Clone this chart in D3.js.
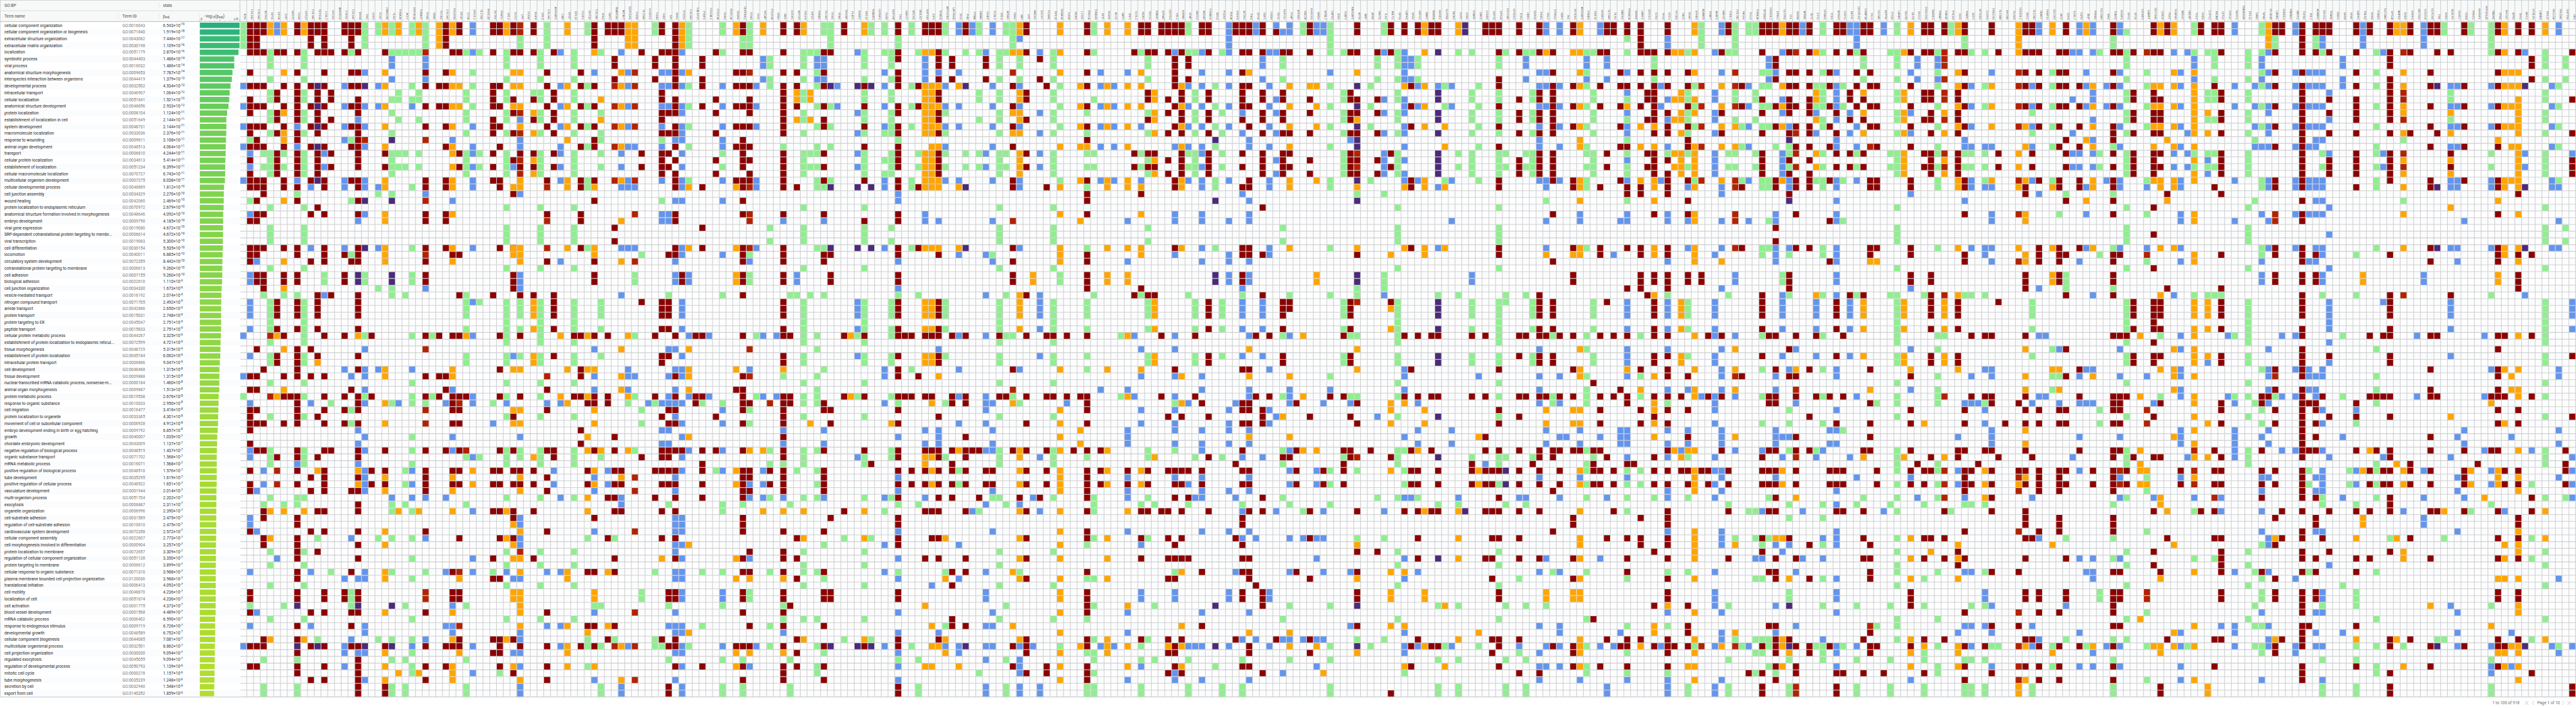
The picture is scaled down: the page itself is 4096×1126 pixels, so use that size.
<!DOCTYPE html>
<html><head><meta charset="utf-8">
<script src="https://cdn.jsdelivr.net/npm/d3@7"></script>
<style>html,body{margin:0;padding:0;background:#fff;overflow:hidden}svg{display:block}text{font-family:Roboto,sans-serif}</style>
</head><body><div id="chart"></div><script>
const terms=["cellular component organization","cellular component organization or biogenesis","extracellular structure organization","extracellular matrix organization","localization","symbiotic process","viral process","anatomical structure morphogenesis","interspecies interaction between organisms","developmental process","intracellular transport","cellular localization",
"anatomical structure development","protein localization","establishment of localization in cell","system development","macromolecule localization","response to wounding","animal organ development","transport","cellular protein localization","establishment of localization","cellular macromolecule localization","multicellular organism development","cellular developmental process","cell junction assembly","wound healing","protein localization to endoplasmic reticulum","anatomical structure formation involved in morphogenesis","embryo development","viral gene expression","SRP-dependent cotranslational protein targeting to membr...","viral transcription","cell differentiation","locomotion","circulatory system development","cotranslational protein targeting to membrane","cell adhesion","biological adhesion","cell junction organization","vesicle-mediated transport","nitrogen compound transport","amide transport","protein transport","protein targeting to ER","peptide transport","cellular protein metabolic process","establishment of protein localization to endoplasmic reticul...","tissue morphogenesis","establishment of protein localization","intracellular protein transport","cell development","tissue development","nuclear-transcribed mRNA catabolic process, nonsense-m...","animal organ morphogenesis","protein metabolic process","response to organic substance","cell migration","protein localization to organelle","movement of cell or subcellular component","embryo development ending in birth or egg hatching","growth","chordate embryonic development","negative regulation of biological process","organic substance transport","mRNA metabolic process","positive regulation of biological process","tube development","positive regulation of cellular process","vasculature development","multi-organism process","exocytosis","organelle organization","cell-substrate adhesion","regulation of cell-substrate adhesion","cardiovascular system development","cellular component assembly","cell morphogenesis involved in differentiation","protein localization to membrane","regulation of cellular component organization","protein targeting to membrane","cellular response to organic substance","plasma membrane bounded cell projection organization","translational initiation","cell motility","localization of cell","cell activation",
"blood vessel development","mRNA catabolic process","response to endogenous stimulus","developmental growth","cellular component biogenesis","multicellular organismal process","cell projection organization","regulated exocytosis","regulation of developmental process","mitotic cell cycle","tube morphogenesis","secretion by cell","export from cell"];
const termIds=["0016043","0071840","0043062","0030198","0051179","0044403","0016032","0009653","0044419","0032502","0046907","0051641",
"0048856","0008104","0051649","0048731","0033036","0009611","0048513","0006810","0034613","0051234","0070727","0007275","0048869","0034329","0042060","0070972","0048646","0009790","0019080","0006614","0019083","0030154","0040011","0072359","0006613","0007155","0022610","0034330","0016192","0071705","0042886","0015031","0045047","0015833","0044267","0072599","0048729","0045184","0006886","0048468","0009888","0000184","0009887","0019538","0010033","0016477","0033365","0006928","0009792","0040007","0043009","0048519","0071702","0016071","0048518","0035295","0048522","0001944","0051704","0006887","0006996","0031589","0010810","0072358","0022607","0000904","0072657","0051128","0006612","0071310","0120036","0006413","0048870","0051674","0001775",
"0001568","0006402","0009719","0048589","0044085","0032501","0030030","0045055","0050793","0000278","0035239","0032940","0140352"];
const padjMantissa=[6.543,1.919,7.446,1.109,2.870,1.486,1.486,7.787,1.379,4.534,1.064,1.521,
2.933,1.124,2.144,2.144,2.376,3.108,4.064,4.244,5.414,6.399,6.743,8.038,1.812,2.270,2.469,2.679,4.092,4.185,4.672,4.672,5.300,5.535,6.885,8.442,9.260,9.260,1.110,1.673,2.074,2.492,2.650,2.748,2.751,2.751,3.325,4.721,5.315,6.062,9.047,1.315,1.315,1.460,1.513,2.676,2.950,3.416,4.301,4.912,6.857,1.035,1.137,1.437,1.568,1.568,1.576,1.619,1.651,2.014,2.202,2.311,2.390,2.475,2.475,2.572,2.773,3.257,3.309,3.350,3.899,3.988,3.988,4.092,4.236,4.236,4.373,
4.489,6.590,6.726,6.752,7.081,8.862,9.094,9.094,1.139,1.157,1.248,1.548,1.859];
const padjExponent=[-19,-18,-17,-16,-16,-14,-14,-14,-13,-13,-12,-12,
-12,-11,-11,-11,-11,-11,-11,-11,-11,-11,-11,-11,-10,-10,-10,-10,-10,-10,-10,-10,-10,-10,-10,-10,-10,-10,-9,-9,-9,-9,-9,-9,-9,-9,-9,-9,-9,-9,-9,-8,-8,-8,-8,-8,-8,-8,-8,-8,-8,-7,-7,-7,-7,-7,-7,-7,-7,-7,-7,-7,-7,-7,-7,-7,-7,-7,-7,-7,-7,-7,-7,-7,-7,-7,-7,
-7,-7,-7,-7,-7,-7,-7,-7,-6,-6,-6,-6,-6];
const axisTicks=[0,2,4,6,8,10,12,14,16];
const evidence={r:"#8b0000",g:"#90ee90",o:"#ffa500",b:"#6495ed",p:"#4b2a7a",d:"#b22200"};
const colsA=[
["BGN","g0-3 b9,12,15,18,23,46,52,92 g55"],
["COL1A1","r0-4,7,9,11-13,15,16,18,20,22-24,29,33-35,52,54,57-60,62,66,68,69,75,84,85,87,92,95 g17,26,86 b19,21,28,37,38,41-43,45,49,56,63,64,73,74,81,89"],
["COL5A1","r0-4,9,12,15,17,18,23,24,26,28,29,33,34,37,38,48,52,54,57,59,63,92,95 b35,69,75,87"],
["ACTN1","r0,1,4,9,12,15,18,23-25,28,33,37-39,51,59,63,72,73,76,77,91,92 g19,21,40,71,94,98,99 b66,68"],
["RPS5","o0,1,72,76,91 g4-6,8,10,11,13,14,16,19-22,27,30-32,36,41-45,47,49,50,53,58,63-65,70,78,80,83,88 d46,55"],
["EIF5A","b0,1,79 r4,10,11,13,14,16,19-22,41-43,45,49,50,64 o46,55 d66,68"],
["DSP","o0,1,7,13,16,17,26,35,39,48,54,72 r4,9,12,15,18,23,24,33,37,38,46,52,55,59 g19,21,40,71,86"],
["NDST1","r55"],
["FLNA","r0,1,4,7,9-14,16,17,19-22,24,26,33,34,37,38,41-43,45,48-52,55-59,63,64,66,68,73,74,76-79,81,82,84,85,89,91,93,95,96 b15,18,23,65 g25,40,70,71,94,98,99 p86,92"],
["RPS10","o0,1,72,91 g4-6,8,10,11,13,14,16,19-22,27,30-32,36,41-47,49,50,53,55,58,63-65,70,78,80,83,88"],
["COL4A1","r0-3,9,12,15,18,23,28,35,48,52,67,69,75,87,92,97 b24,33,56,81,89"],
["SEC16A","r0,1,4,10,11,13,14,16,19-22,27,40-43,45,49,58,64,72,78 p9,12,15,18,23,92 o50,66 g76,91"],
["LOXL2","r0-4,7,9,12,15,18,23,24,28,33-35,46,52,55,57,59,63,66-69,72,75,84,85,87,92,95,97 b19,21,40 g37,38"],
["HYOU1","r4,10,11,14,19,21,40,63 g56,81"],
["ANKRD52",""],
["PTPRF","r0,1,4,34,37,38,46,55,57,59,84,85 b9,12,15,17,23,24,33,51,82,92,93,95"],
["COL1A2","r0-3,7,9,12,15,18,23,35,54,69,81,87,89,92 g4,17,26,34,57,59,84-86 b52,76,91"],
["MYH9","r0,1,4,7,9,11-13,15-20,21,23,24,26,28,33-35,40-43,45,49,51,55-57,59,63,64,67,69,71,72,75,77,79,84,85,87,92,94-99 b14,29,60,62,65,82,93 p37,38,86 o46,66,68"],
["TNC","g0-3,37,38,46,55 b7,12,15,18,23,24,28,48,51,52,54,56,61,63,66-69,81,82,89,90,93,97 p9,26,33,92 d17"],
["USP5","r46,55,66,68"],
["FLNC","g0,1,25,39,76,91 b9,12,24,33,51"],
["FAM129B","o0,1,7,9,12,15,18,23,24,28,29,33-35,51,52,56,59,67,69,75,77,81,82,87,93,95,97 r4,19,21,63,66,68,92,98,99"],
["TLN1","g0,1,4,11,13,16,19-22,25,39,40,56,71,72,76,81,91,94,98,99 b5,6,8,70 p17,26,37,38,86,92"],
["TUBA1B","o0,1,72,96 g4,10,11,14,19,21 b56"],
["ACLY","g4,19,21,40,66,68,71,86,94,98,99"],
["PPP2R1A","g0,1,4,9,11,24,33,37,38,46,53,55,56,61,63,65,72,76,79,82,88,91,93,95,96 b12,51,66,68,70,92"],
["TUBA1C","o0,1,72,96 g4,10,11,14,19,21"],
["ITGA5","g0-3,56,81 d4,17,26,34,48,57,59,84,85 b5,6,8,25,39,70,76,91 r7,9,12,15,23,24,28,29,33,35,37,38,46,52,55,63,66-69,75,87,92,95,97"],
["UBA1","g46,55"],
["PLOD1","o0-3 r9,12,46,52,55"],
["COL5A2","r0-3,7,9,12,15,18,23,24,28,29,33,52,54,63,92,95 b56,70,81,89"],
["PDGFRB","o0,1,7,9,12,15,18,19,21,23,24,28,33,35,51,52,67,69,72,87,91,95-97 r4,34,46,55-57,59,66,68,81,84,85,92 b17,26,54,61,63,86,89,90"],
["IGF1R","r0,1,4,19,21,34,40,46,55,57,59,63,66,68,76,84,85,91,92 o9,12,82,93 d56,81,89"],
["CTSA","g4,10,11,13,14,16,19-22,40-43,45,49,50,64,71,86,94,98,99 o46 r55 d63"],
["NFE2L1","b0,1,4,15,18,19,21,23,24,33,41,46,55,56,64,72,79,81,92,96 g7,9,12 o66,68"],
["SLC7A1","g4,19,21,41,64"],
["PRRC2B",""],
["DCTN1","r0,1,4,9-12,14-16,19,21,23,40,66,68,72,79,82,91,93 b59 g56,81"],
["PRMT1","r0,1,9,12,15,18,23,24,33,46,51,55,63,66,68,72,76,82,91-93,95 g96"],
["RPL3","o0,1,72,76,91 g4-6,8,10,11,13,14,16,19-22,27,30-32,36,41-47,49,50,53,55,58,63-65,70,78,80,83,88 b56,81"],
["RCC2","r0,1,4,11,13,16,20,25,33,37-39,58,63,66,68,72,73,76,91,96 o7,9,12,24,33,34,51,57,59,74,77,79,84,85,95 b21,49,82,93"],
["LPP","d0,1,13,16,20,22,78 g2,3,41-43,45,49,63,64 r4,19,21,40,46,55,66,68,92 o7,9,12,15,23,24,33-35,51,57,59,67,69,75,79,81,84-87,89,97 b14,17,18,25,37-39,61,73,74,76,77,82,90,91,93,95,98,99"],
["SCRIB",""]
];
const colsB=[
["PHIP9","r0,1,4,11,14,19,21,40,66,68,72,79 g10 o13,16,20,22,41-43,45,49,50,64"],
["RPL8","g4-6,8,10,11,13,14,16,19-22,27,30-32,36,41-47,49,50,53,55,58,63-65,70,78,80,83,88"],
["COL4A2","g0-3 r7,9,12,15,23,28,35,54,57,63,67,69,75,87,92,95,97 d24,29,33,52 b56,81,89"],
["ARHGAP1","r4,10,11,13,14,16,19,21,40-43,45,49,63,64 b66,68"],
["CAD","b4,9,12,15,18,19,21,23,35,56,70,81,89,92 o46,55"],
["NREP","o0,1,9,12,15,17,23,24,33,51,56,81,82,89,92,93,95"],
["RPL18","g4-6,8,10,11,13,14,16,19-22,27,30-32,36,41-45,47,49,50,53,58,63-65,70,78,80,83,88 r46,55"],
["TGOF1","r7,9,12,15,18,23,24,28,29,33,46,51,52,55,60,62,92"],
["KNT2D","g0,1,9,12,15,18,23,24,33,76,91,92,95 o46,51,55,61,63,70,72 r56,66,68,81,89 o90"],
["COL3A1","r0-3,9,12,15,17,18,23,26,35,37,38,46,55,56,63,73,81,89,92 o4,24,33,34,51,57,59,66,68,84,85,95 b7,48,52,54,67,69,75,87,97 g86"],
["TPK3","g4,13,16,17,19,21,41-43,45,49,64,86,92,98,99 o11,14,63"],
["SMT2","r0,1,46,55,56,70,76,91 b66,68 o81,89"],
["SMARCA4","r0,1,5,6,8,30,32,61,63,66,68,70,72,79,81,89 d9,12,15,18,23,92 g76,91"],
["MICAL2","r0,1,66,68,72 b4,19,21,24,33,40,70,71,98,99 o7,9,12,15,18,23,29,35,48,52,54,67,92,97"],
["SERPINH1","o0-3,46,55,63 b7,9,12,15,18,23,24,33,51,52,54,92 g56"],
["TGFBI","o0-3 d7,9,12,15,23,28,35,67,69,75,87,92,97 b18,24,33,52 g37,38,46,55,63"],
["SLC5A6","r4,19,21,41,64 g34,57,59,84,85"],
["UCHRC1","b56"],
["P4HB","g0,1,56,81,91,92 r5,6,8,46,55,66,70"],
["NID2","r0,1,4,10,11,13,14,16,19-22,41-43,45,49,50,58,63,64,66,68,72,76,91 b7,9,12,15,18,23,28,29,56,60,62 g17,26,92 o79"],
["GPI","r4,13,16,19,21,34,41-43,45,49,57,59,63,64,66,68,84,85,92,98,99 b7,9,12,28,29,48,52,55,56,60,62,89 g40,71,86,94"],
["DKK1","r0-9,11-13,15,16,18,20,22-24,28,29,33,34,46,52,55,57,59,63,66,68,70,72,76,79,84,85,91,92,95 b17,26,35,37,38,48,51,54,56,58,67,69,73-75,77,78,81,82,87,89,90,93,97"],
["POSTN","o0-3 b4,7,9,12,13,15-17,19,21,23,24,26,33,34,41-43,45,49,51,52,56,59,61,64,66,73,74,75,77,79,81,82,84,85,89,90,92,93,95,98,99 r37,38,63"],
["COL6A3","g0-3,9,12,15,18,23,92 o7,24,33,48,51,52,54,61,77,90 b37,38,46,55,63"],
["GALNT10","r46,55,56"],
["PTBP1","r5,6,8,9,12,24,30,33,46,55,63,65,66,68,70,95 g56,81,89"],
["ST6GAL1","b46,55"],
["POLR1A","r4,11,13,16,20,22,58,63 g66"],
["CNN2","g0,1,4,19,21,40,56,71,72,81,86,94,98,99 b9,12,15,17,18,23,26,34,57,59,63,66,84,85,92"],
["PRRC2A",""],
["TENM3","o0,1,24,33,37,38,51,66,68,79,82,93,95 r7,9,12,15,18,23,54,92"],
["SERPINE1","r0,1,4,7,9,12,15,17-21,23,24,26,28,33-35,37,38,40,46,52,54-57,59,63,66-70,73-75,79,81,84,85,87,92,95,97 g2,3,71,94,98,99"],
["ITGA3","g0-3,34,37,38,57,59,84,85 r4,9,11-13,15,18,20,22,23,56,66,67,69,78,81,89,92 d7,24,28,29,33,48,52 b35,51,68,70,79,95 o63,82,93"],
["FIGF","b9,12,15,23,24,33,92 g46,55"],
["SRCAP","o0,1,63,72 b5,6,8,46,55,66,68,70"],
["POLR2A","g5,6,8,9,30,32,63,65,70,81,89,92 d56 r66,68"],
["URB1","b46,55"],
["JAK1","r0,1,4,7,9-16,19-24,28,33-35,37,38,41-43,45,46,49,50,55-59,61,63,64,66-69,75,78,79,81,84,85,87,89,92,95-97 g18,52,65,86,88 o51,72,82,93 b29,60,62,70,90"],
["DOCK1","r46,55,56,86 g40,71,94,98,99"],
["MYO10","r0,1,7,9,12,24,76,79,82,91,93,95 o10,11,14 b37,38 g40,66"],
["RPLP0","o0,1,72,76,91 g4-6,8,10,11,13,14,16,19-22,27,30-32,36,41-47,49,50,53,55,56,58,63-65,70,78,80,81,83,88"],
["HIF1G","g4,19,21,40 o10,11,14,59"],
["PSMB4","g4,7,9,12,15,18,19,21,23,24,33,46,48,52,54-56,63,66,68,70,81,88,92,95,96 b5,6,8"],
["PLOD2","g0,1,24,33,40,51,77,82,93 r4,7,9,12,14,15,19,21,23,28,34,35,56,57,63,66-69,75,81,84,85,89,92,95,97 b5,6,8,29,60,62,70"],
["ITGB1","g0-3,12,15,18,23 r4,34,37,38,57,59,73,84,85 p9,24,33,92"],
["PFAS","b9,12"],
["TRIOBP","r0,1,46,55,72 g76,91"],
["PLAT2","o46,55"],
["RRBP1","b4,13,16,19,21,41-43,45,49,64 p9,24,33,92 g46,55"],
["RPL10","o0,1,72,76,91 g4-6,8,10,11,13,14,16,19-22,27,30-32,36,41-45,47,49,50,53,58,64,65,70,78,80,83,88 r9,12,15,18,23,29,46,55,63,92"],
["SHANK3","g0,1,76,91 p9,24,33,92 r65"]
];
const colsC=[
["GTPBP1",""],
["FLNB","g0,1,4,16,20,22,72 b7,9,12,15,23,24,33,51,52,56,70,77,81,92"],
["NUP188","g4-6,8,10,11,13-16,19-22,30,32,41-43,45,46,49,50,55,63,64,70 o59"],
["FN1","r0,1,4,5,7-9,12,13,15,16,18-21,23,24,28,29,33,34,37,38,41-43,45,46,49,51,52,55,57,59,63,64,66,68,70,73-74,76,77,84,85,91,92,98,99 g2,3,17,40,56,71,81,94 b25,26,35,39,61,67,69,75,79,82,87,90,93,95,97"],
["SAINT2","r46,55"],
["MTCH1","g0,1,9,12,15,23,24,33,51,92 r46,55,66,68"],
["TAGLN2","g4,19,21,40,71,94,98,99 r9,12,24,33,52"],
["SUPT6H","r0,1,46,55,63,66,68,72,79 o4,9-16,19-24,33,41-43,45,49,50,64,65,86,95 b5-8,28,29,60,62,70"],
["EIF6","r0,1,46,55,63,72,76 o4,9-16,18-24,33,41-43,45,49,50,56,64,66,68,89,92,95 b83"],
["TRIM28","r0,1,4-6,8,10,11,13,14,16,19-22,34,41-43,45,46,49,50,58,63,64,66,68,70,72,76,79,91 b7,29,48,60-62,90 o9,12,15,18,23,24,33,52,92"],
["ATP6V0D1","g0,1,4,13,16,19,21,41-43,45,49,56,64,81,89 b9,12,15,18,23,92 o76,82,91,93"],
["LAPTM4A","r5,6,8,46,55,56,63,65,66,68,70,81,83,88,89"],
["TRIO","b0,1,7,12,15,23,34,46,51,55,59,77,82,92,93 o9,24,33,63,95 g66,68"],
["PHB","r0,1,46,55,56,61,63,64,66,68,72,79,81,89 g4,19,21 p9,24,33,92"],
["PTMA","b0,1,72 r63"],
["BAMBI","g0,1,4,10,11,14,19,21,72,96 r63,70"],
["GNAI2","b4,19,21,34,40,46,55-57,59,63,71,81,84,85,89,92,94,98,99 r5,6,8,66,68"],
["FOSL1","b0,1,9,12,15,18,23,29,35,56,60,62,63,69,75,87,89,92 g34,70 r66,68"],
["RPL6","g4-6,8,10,11,13,14,16,19-22,27,30-32,36,41-45,47,49,50,53,58,63-65,70,78,80,83,88 r46,55"],
["APBB1","g0,1,4,19,21,40,46,71,86,94,98,99 r55"],
["FBN1","g0-3,46,55 o4,13,16,56,81,89 d7,29,54 r9,12,15,18,23,24,33,35,37,38,51,63,92,95"],
["MPI","o0,1,4,10,11,13,14,16,19-22,40-43,45,63,64,66,68,72,76,79,82,91 b2,9,12,15,23,24,33,51,71,92,94-96,98,99 g5,6,8,56,81 r70"],
["HTT","r0,1,4,10,11,14,19,21,40,46,55,59,63,66,68,72,76,79,82,91-93,96"],
["HMCN1","o37,38 b70,92"],
["EXOC7","b4,13,16,19,21,40-43,45,49,64,72,98,99 r5,8,70"],
["FOXM1","r9,24,46,55,63,66,68,95,96"],
["RPL19","g4-6,8,10,11,13,14,16,19-22,27,30-32,36,41-45,47,49,50,53,58,63-65,70,78,83,88 r46,55"],
["SEMA3A","o0,1,4,7,18,24,28,33-35,51,57,59,61,63,66-69,72,75,77,79,82,84,85,87,90,93,95,97 g9,12,15,23,37,38,92"],
["TUFM","r46,55 b56"],
["WDR6","r63"],
["L1TD1","o9,12,15,18,23,29,60,62,92 r55"],
["PRKCA","r0,1,4,7,9,12,15,17,23,25,26,28,34,35,37-39,46,55-57,59,63,66-70,72,75,76,81,84-87,91,92,95-97 g13,16,19,21,24,33,41-43,45,49,51,64,77,82,88,93,98,99 o18"],
["TUBB4B","g0,1,4,11,19,21,40,70-72,76,82,86,91,93,94,96,98,99"],
["NFIC","b7,9,12,15,18,23,54,92 r63,66,68"],
["TENM2","o0,1,9,12,15,23,24,33,37,38,51,63,66,68,76,79,82,91-93"],
["ACO2","b9,12,15,18,23,92"],
["YARS","g46,55"],
["ZNF1","o0,1,9,12,15,18,23,24,33,37,38,46,55,72,86,92,95 b7,29,35,54,60-62,67,69,70,75,87,90,97 r66,68"],
["SCYL1","r4,19,21,40 b46,55"],
["WDR1","r0,1,25,39,72,76,79,91 g4,19,21,40,71,92,94,98,99 o7,9,12,24,28,33,34,51,66,68 b15,23,48,52,57,59,77,84,85,95"],
["SEC13","r0,1,4,10,11,14,19,21,40,66,68,72 g5,6,8,13,16,20,22,30,32,41-43,45,49,50,63,64,70,76,91"],
["RAB6C","r4,19,21,40 o10,11,13,14,16,20,22,41-43,45,49,50,64 g71,86,94"],
["EPHA2","r0,1,46,55,72"],
["CEP350","r0,1,4,11,13,16,20,22,58,66,72,76,79,82,91,93,96 o92"],
["CFL1","r0,1,5-9,12,15,23,24,33,51,66,68,70,77,79,82,92,93,95 b4,18,28,29,34,46,48,52,55,57,59,60,62,67,84,85,96,97 g56,63,81"],
["NUMA1","r0,1,4,10,11,13,14,16,19-22,58,66,68,72,76,79,91,96 o9,12,15,18,23,24,33,52,56,81,89,92,95"],
["GFAP","g0,1,4,19,21,40,71,94,98,99 r5,6,8,66,70,79 b9,12,15,18,23,56,68,92"],
["HERC3","g4,10,11,13,14,16,19-22,41-43,45,49,50,64 r46,55 b70,92"],
["ANXA2","r0,1,56,66,68,81,89 b4,7,9,12,15,18,19,21,23,24,28,29,33,35,52,54,60,62,63,67,69,70,75,87,92,97"],
["TOMM40","r0,1,4,10,11,13,14,16,19-22,41-43,45,49,50,58,64,72"],
["MYL9","g9,12,15,18,23,24,33,95 p17,26,37,38,86,92"]
];
const colsD=[
["PCDH7","g4,13,16,19,21,41-43,45,49,64,98,99"],
["RHOA","b0-4,7,9,12,15,23,29,34,35,37,38,57,59,60,62,69,75,84,85,92"],
["PRPF8","r0,1,65,76,91 b56,70,81"],
["ACTN4","r0,1,4,7,9-12,14,19,21,24,33,34,37,38,51,56,57,59,63,66,68,73,74,77,79,81,84,85,95 b13,16,25,39,41-43,45,49,64,72,76,91 g40,71,94,98,99"],
["PIK3","r0,1,4,9,12,15,23,24,33,34,51,56,57,59,66,68,72,79,81,82,92,93,95 o7,48,52,61,90 b17,18,26,28,29,35,37,38,46,54,55,60,62,67,69,75,87,97"],
["EPS8","b0,1,76,91 r46,55,83"],
["GBF1","r0,1,4,10,11,13,14,16,19-22,27,34,40,57-59,70,72,84-86,96 b5,6,8,41-43,45,49,64"],
["OGDH","b4,9,12,15,18,23,24,33,34,51,57,59,84,85,92 r46,55"],
["PES1","b0,4,11,13,16,20,22,58,72 r1,91"],
["NUP214","b1,91,96 r4,10,11,13,14,16,19-22,41-43,45,49,50,64 g5,6,8,30,32,46,55,63,65,70,88 o58"],
["PSAP","b0,1,46,54,55,56,63,66,68,76,81,91 r4,16,19,21,41,42,64 o9,12,15,18,23,24,33,52,61,90,92 g40,71,86,94"],
["ATP1B1","r56,63,66,68,81"],
["BAZ2A","g0,1,72 o46,55,63 b76,91"],
["NUDCD3","r0,1,4,11,13,16,20,22,58,72,76,82,91,93 o9"],
["NMD3","b0,1,66,68,76,79,91,95 o9,12,15,23,37,38,63,92"],
["MYBL2","b0,1,56,72,76,81,91 r66,68 o96"],
["CAPN2","g0-4,9,12,15,18,23,24,33,40,52,66,68,71,86,92,94,98,99 b7,54 r55"],
["ZEB1",""],
["U2AF2","g4,10,11,13,14,16,19-22,41-43,45,49,50,64 r46,55,63,65,66,68"],
["RANGAP1","r4,10,11,13,14,16,19-22,41-43,45,49,50,58,63,64 b17,56,81,89 g46,55"],
["ACTB","r0,1,4,11,13,16,20,22,34,56,59,78,81,84,85,89,72 o7,14,24,33,48,51,77,82,93 p9,12,15,17,18,23,26,37,38,86,92 d19,21,41,64 g25,39,40,46,55,66,76,91"],
["MBP",""],
["ATM1","g9,12,15,23,92 r63"],
["PACS1","r4,11,13,16,20,22,78 g5,6,8,70 b58"],
["TLN2","g0,1,25,37-39,76,91 b4,11,13,16,19-22,40,72"],
["ABLC1","r0,1,4,19,21,41,64,99 o34,42,45,56,57,59,66,81,84,85,89"],
["RPS6","g4-6,8,10,11,13,14,16,19-22,27,30-32,36,41-47,49,50,53,55,58,63-65,70,78,80,83,88"],
["CAPN1","r0,1,46,55,72 b4-8,11-13,15,16,18,20,22,23,51,52,54,61,70,79,82,90,92,93 o9,24,33,56,81,89,95 g63,66,68,96"],
["SPEN","b5,6,8,70 r9,12,15,23,24,33,51,63,66,68,92,95"],
["HSPG2","r0,1,46,55,66,68,72,76,79,91 g5,6,8,70 b9,12,23,56,60,62,81,92 o63"],
["MAP1","o0,1,4,9,12,15,23,24,33,34,57,59,72,84,85,92"],
["KDM5A","r0,1,46,55,63,72,92"],
["HUWE1","r0,1,46,55,66,68,72,92 p4,10,11,13,14,16,19-22,41-43,45,49,50,58,64,79 b9,24,33 g40,71,86,94,98,99"],
["CLPTM1","g9,12,23,92 o15,18,24,33,86,95"],
["TAOK2","b9,12,23,29,60,62,92"],
["CUTC","o0,1,72,76,79,91 g4,19,21,40,71,86,94,98,99 b70"],
["CHD4","p0,1,72"],
["SYMPK","g4,10,11,13,14,16,19-22,41-43,45,49,50,64 b37,38 r46,55,65,66,68"],
["DAG1","g9,12,15,18,23,92 b52 o61,66,68,90"],
["CCNB2","r0,1,46,55,61,63,66,68,72,79 b65"],
["SEPT9","r0,1,66,68,72,76,79,82,91,93"],
["RPS19","r0,1,4,8,9,12,15,18,23,24,33,34,51,57,59,63,66,70,72,76,84,85,91,92,95 g5,6,10,11,13,14,16,19-22,27,30-32,36,41-47,49,50,53,55,58,64,65,68,78,80,83,88"],
["SLC44A2","g4,19,21,40,41,64,71,86,94,98,99 p66,68"],
["NTSDC2",""],
["PLK1","r0,1,4,11,13,14,16,20-22,46,49,55,58,63,66,68,72,76,79,91,96 b70,92 g82,93"],
["UBR4","g4,19,21,40,71,86,94,98,99 b5,6,8,70 r46,55"],
["DHX36","g4,10,11,13,14,16,19-22,41-43,45,49,50,64 r65"],
["PINK1","r0,1,4,10,11,13,14,16,19-22,40-43,45,46,49,50,55,63,64,66,68,72,79,96 b7,9,12,15,17,18,23,48,52,54,56,67,81,89,93,95,97"],
["GNL2","b0,1,7,9,12,23,24,29,33,60,62,79,92,95 o4,34,57,59,84,85 g26,86 r46,55"],
["PTPN14","r4,7,9-16,19-23,28,35,41-43,45,49,50,63,64,69,75,92 g46,55,56,81"],
["GBP4","b0,1,9,12,15,18,23,52,56,61,70,81,89,90,92,95 r46,55,63,66,68"]
];
const colsE=[
["TK1","b61"],
["SPOCK1","r0,1,9,12,15,23,24,33,37,38,46,51,55,63,73,74,79,82,92,93,95 o4,34,57,59,84,85"],
["ARHGAP5","o0,1,4,7,9,12,15,17,18,23,24,26,33,34,48,51,52,57,59,66,68,72,76,77,79,82,84,85,91-93,95 b28,29,60,62,67,97 r63"],
["PSMB3","g4,7,9,12,15,18,19,21,23,24,33,46,48,52,54-56,63,65,66,68,70,81,88,92,95,96 b5,6,8"],
["RNF31","g4,10,11,13,14,16,19-22,41-43,45,49,50,64 r53,63,65,66,68,88"],
["IGFBP3","b0,1,61,79,92 r4,9,12,24,33,34,46,55,57,59,63,66,68,95"],
["SLC9A5","r0,1,4,19,21,41,64,76,91 b5,6,8,70,98,99"],
["GLN1","r0,1,46,55,66,68,72 b34,92"],
["MKRN1","r7,9,12,15,18,23,54,92 b29,60-62,90"],
["PRKACA","r0,1,9,18,24,25,33,39,46,55,56,65,76,79,81,91,92,95 g2,4,11,14,17,19,21,22,26,66,68,70,72,82,89,93,96 b7,10,13,15,16,20,23,28,29,41-43,45,48-50,52,60-62,64,67,97 o12,51"],
["SRRM2","r65"],
["LAMC1","r0-4,7,9,12,24,25,33,34,37-39,51,57,59,73,76,77,91 o15,18,23,54,92 g46,52,55,66,68"],
["ERGIC1","r4,10,11,14,19,21,40"],
["CCN1","r4,7,9-14,16,19-22,28,37,38,41-43,45,46,49,50,55,58,64,66,68,78,86,92 g5,6,8,70 o15,18,23,24,26,33,34,40,52,56,57,59,61,89,90"],
["TPX2","b9,12,23,92"],
["NOL3","r0,1,4,7,9,13,15,16,20,22-25,33,34,37-39,46,49,51,52,55,57,59,63,66,68,72-74,76,77,79,82,84,85,91-93,95 b2,3,11,14,18,28,29,35,41-43,45,48,54,60,62,64,69,70,75,87,97-99 g19,40,56,81,89,96 o86"],
["PLOD3","o4,11,14,19,21,63 r92"],
["OAZ1","o4,10,11,13,14,16,19-22,41-43,45,49,50,64 r55,66 b63"],
["GNAS","g4,10,11,13,14,16,19,21,41-43,45,49,64,70,81,98,99 r7,9,12,15,17,18,23,26,28,37,38,52,57,61,66,68,86,89,90,92 b24,29,33,54,60,62 o63,95"],
["EPHB2","o0,1,4,7,11,13,18-22,24,28,29,33-35,46,51,54,55,63,66-69,75-79,82,87,91,93,95,97 g9,12,15,23,92"],
["ADAM19","g0-3 d9,12,15,18,23,92 r37,38,66 b55"],
["TRAF7","r46,55,66,68"],
["AKAP2","b4,10,11,13,14,16,19-22,34,41-43,45,46,49,50,55-57,59,64,66,68,70,81,84-86,92,98,99"],
["HBEGF","b0,1,7,24,25,29,33,39,48,51,52,54,60-62,66,67,69,75-77,87,90,91,97 r4,13,16,46,55,63 o9,12,15,18,23,35,92"],
["SORL4","r0,1,66,68,72,79 g4,19,21,40,71,86,94,98,99"],
["COL7A1","g0-4,10,11,14,19,21,76,91 d7,9,12,23,24,28,29,33,52,92 o15,18,48,51,54,61,77,90 b37,38,46,55,63"],
["TAGLN","r9,12,24,33,52 g15,18,23,92"],
["PCLO","g0,1,72 b9,12,15,18,23,29,92 r96"],
["TUBA1A","g0,1,10,11,14,19,21,72,76,82,91,93,96 b79"],
["SPTBN1","r0,1,4,11,13,16,19-22,40-43,45,49,64,66,68,76,78,92,96,98,99 g7,9,12,15,23,24,33,34,46,51,55,59,77,82,91,93 b63,72,79"],
["CREB3L2","r0,1,46,55,56,63,66,68,72,81,89 b5,6,8 g7,9,12,15,23,24,29,33,70,76,91,92,95"],
["EPB41","r0,1,5,6,8,12,15,23,24,30,32,46,51,55,56,63,66,68,70,72,79,81,82,89,91-93,95,97 b7,28,29,33-35,52,54,60-62,67,77,86,90 g18,96 o76"],
["CLSTN1","o0,1,9,12,15,23,66,68,76,91,92,95 b4,11,13,19-22,40-43,45,49,61,64,78 g37,38"],
["VCL","r0,1,4,7,9,11-13,16,20,22,25,37-39,48,52,76,91 b15,23,24,33,51,61,77 p17,26,86,92 g18,19,21,34,40,57,59,63,71,73,84,85,94,98,99 o82,93"],
["INHBA","r0,1,7,9,12,15,18,23,24,28,33,46,52,55,61,63,66,68,79,92,95,96 d4,16,19,21,54,64,98,99 b48,56,81,89 o51,70"],
["APBA1","b0,1,72,79"],
["SET2","r0,1,4,7,9,11-13,15,16,18,20,22-24,33,51,58,63,77,82,92,93"],
["ETS1","o4,10,11,14,19,21,40 g9,12,23,63,92 b13,16,41-43,45,49,64 r46,55"],
["SPTAN1","g0,1,4,7,9-12,14,15,19,21,23,24,33,34,40,46,51,55,59,71,73,77,82,86,92-94 b63,76,79,91"],
["TCE1","r7,9,12,15,18,23,29,35,55,66,68,92 b60,62"],
["MYH10","r0,1,4,13,16,19,21,41-43,45,49,59,66,68,72,96,98,99 b7,9-12,14,17,18,23,24,26,28,29,33-35,37,38,40,51,52,57,60,62,69,71,75-77,82,84,85,87,92,93,95"],
["USP21","r0,1,46,55,66,68,72,96 g9,12,23,29,60,92"],
["BET1L","b0,1,13,16,41-43,45,49,64 r4,10,11,14,19,21,40"],
["CRISPLD2","b0-3,15,18,23,55,67,92 g4,19,21,40,71,86,94,98,99 r7,9,12"],
["CHMP1A","r0,1,4,11,14,19,21,40,63,72,76,79,91,96 g5,6,8,70 o10,13,16,41-43,45,49,64"],
["ELL3","r0,1,7,9,12,15,23,24,33,34,51,56,59,61,63,77,79,81,82,90,92,93 d18,89 o35,54"],
["NCOA6","r9,12,15,18,23,24,33,66,68,92 o35 g56,89"],
["INPP5K","b0,1,72 r96"],
["PYGB","g4,19,21,40,71,86,94,98,99"],
["LAMB2","g0,1,4-6,8,10,11,13,14,16,19-22,27,30-32,36,40-47,49,50,53,55,56,58,63-66,68,70,72,76,78,80,81,83,88,89,91"],
["TECTB","o4,10,11,13,14,16,19-22,41-43,45,49,50,64"]
];
const colsF=[
["DLG5","o0,1,51,76,79,82,91,93,95 r4,9,12,15,18,23,24,33,34,37,38,52,57,59,63,66,68,84-86,92 b7,13,16,25,39,48,54,67,97"],
["SEC62","b5,6,8,70 r65"],
["DYNC1H1","r0,1,4,10,11,14,19,21,66,68,76,79,91,96 g40,71,82,86,93,94,98,99 o59,92"],
["TM9SF4","r0,1,4,10,11,13,14,16,19-22,37,38,40-43,45,49,50,64,66,76 o78"],
["PSMA7","g4,7,9,12,15,18,19,21,23,24,33,46,48,52,54-56,65,66,68,70,81,88,92,95,96 b5,6,8"],
["RAB1B","r0,1,72,76,79,91 d4-6,8,10,11,14,19,21,40,55,66,68,70 o13,16,20,22,41-43,45,49,50,64 g46"],
["POLD3","g0,1,72"],
["GDI1","o0,1,7,9,12,15,23,24,33,40,51,77,79,82,92,93,95 r4,10,11,13,14,16,19-22,41-43,45,49,50,63,64,78,80 b61,66,68,90"],
["SPARC","r0,1,4,7,9,12,15,23,24,28,34,35,57,59,63,66-69,75,79,87,92,95,97 g2,3,19,21,40,71,94,98,99 b17,18,26,56,70,81,89"],
["EEF2","g4,19,21,40,71,86,94,98,99 b9,12,15,18,23,24,33,52,56,81,89,92 r46,55,66,68"],
["EFTUD2","b56 r65"],
["GSTP1","g4,9,12,19,21,23,40,56,71,81,86,94,98,99 b18,24,33,34,51,57,59,84,85,89 r46,55,63,92 o66,68,70"],
["PRKCSH","r0,1,46,55,56,63,66,68,70,72,81,89,96 b7,18,24,28,29,33,35,51,52,60-62,86,90,95 o9,12,15,23 g92"],
["SLC9A8","r4,19,21,41,64 g92"],
["MYO9B","r59"],
["PLXD2",""],
["CREB3L1","o0-4,19,21,24,33,68,98,99 d7,9,12,15,23,28,35,67,69,75,87,92,95,97 r56,66,81,89"],
["DKC1","r0,1,4,7,9,12,24,25,37-39,46,55,57,59,63,66,68,72-74,76,79,84,85,91,95 o15,18,23,28,29,34,35,48,52,54,60,62,67,92,97"],
["SLC2A1","r0,1,4,19,21,64,76,91 b9,12,15,18,23,56,70,89,92 g13,16,41-43,45,49,98,99"],
["HDAC7","b0,1,25,39,46,55,76,91 r4,7,9,12,15,23,33-35,57,59,66-69,75,84,85,87,92,95,97"],
["FKBP10","b46,55"],
["CELSR2","o0,1,24,33,37,38,51,77,93 g7,9,12,15,18,23,48,52,54,92,95"],
["JAG1","r4,7,9,12,15,18,23,24,33-35,37,38,57,59,66-69,73-75,87,92,95,97 g28,52 b48,56 o51,54"],
["CD59","r0,1,4,7,9,12,17,19,21,26,34,40,48,52,57,59,66,68,79,84,85 g25,37-39,76,91 b86"],
["EGFL7","b4,11,16,19,21,64"],
["G6PD","b0,1,4,19,21,35,52,56,61,66,79,90,95 r9,12,15,18,23,24,33,51,55,63,92"],
["MVP","o0,1,17,26 b7,9,12,24,28,33,51,56,81 g92"],
["PRRB4","b0,1,4,10,11,14,17,19,21,40,51,56,79,81,82,93,95 o9,12,15,18,23,24,33,52,92 r66,68"],
["SLC19A3","g4,19,21,34,57,59,84,85"],
["MN1","b9,12,23,92"],
["THBS1","r0,1,4,7,9,12,15-17,19,21,23,24,26,28,34,35,37,38,40,46,55-57,59,63,64,66-69,73-75,81,84-87,89,92,95,97 g2,3,18,25,33,39,71,76,79,91,94,98,99"],
["IGFBP6","b0,1,7,9,12,15,18,23,24,33,48,52,61,67,70,79,92,95 r4,34,46,55-57,59,63,81,84,85,89 d66,68"],
["RPS3","g1,4-6,8,10,11,13,14,16,19-22,27,30-32,36,41-45,47,49,50,53,58,63-65,70,78,80,83,88,91 r46,55,66,68"],
["XPO6","r4,10,11,13,14,16,19-22,41-43,45,49,50,64"],
["GTPBP2","o46,55,63,65,66,68,88"],
["NAMPT","d4,34,57,59,84,85 g7,9,12,15,23,28,35,67,69,75,87,92,97 b24,33,52 o66,68"],
["SEC61A1","r0,1,4,10,11,13,14,16,19-22,27,31,36,41-45,47,49,50,58,64,72,78,80 o9,12,15,18,23,92 b56,70"],
["CDK16","o0,1,9,12,15,23,24,33,40,51,70,71,82,92,93 r4,11,13,14,16,19,21,41-43,45,49,56,64,81,98,99 g46,55"],
["PLEC","r0,1,25,39,76,91 o17,26,72"],
["SCARA3","o0,1,7,9,12,15,18,23,24,33,48,51,52,54,61,77,90,92 b4,19,21,40"],
["MED12","b7,9,12,15,18,23,24,28,29,33,35,46,48,51,52,54,55,60-62,67,90,92,95,97 r66,68"],
["HDLBP","b4,16,19,21,64 g92"],
["TSC2","g0,1,4,19,21,40,72,79 b5,6,8,70 o7,9-16,18,20,22,23,28,29,34,35,41-43,45,46,48-50,52,55,56,58,60,62,64,67,81,89,92,97 d63,66,68"],
["CHD3","r0,1,72"],
["COPG1","g4,10,11,14,19,21,40 o13,16,41-43,45,49,59,64,98,99 b20,22,50"],
["MCAM","r0,1,9,24,63,66,68,72,76,91,95 g4-6,8,10,11,14,19,21,40,79 d70"],
["VPS16","r0,1,4,10,11,13,14,16,19-22,25,34,39,41-43,45,49,50,56,57,59,64,66,68,76,78-81,84,85,91 g40 b70,72,89"],
["PPP4C","b46,55"],
["WDTC1","b0,1,9,12,23,29,56,60-64,81,89,90,92 g46,55"],
["TMEM184B",""],
["RPL15","g4-6,8,10,11,13,14,16,19-22,27,30-32,36,41-47,49,50,53,55,58,63-65,78,80,83,88"]
];
const colsG=[
["GAB1","b9,12,15,18 g17,26,56,81,86,89,92"],
["SIPA1","g0,1,4,7,9,12,15,23,24,33,34,51,57,59,77,82,84,85,89,92,93 b5,6,8,18,28,35,37,38,61,67,69,72,75,87,97 r55,56,63,66,68,70,81"],
["PLOD3B","o0-3 b4,7,9,12,13,15,16,18,23,24,29,33,48,51,52,54,56,60,62,67,76,77,81,89,91,92 r55"],
["LAMB1","r0,1,4,7,9,12,15,18,23,24,33,34,37,38,51,54,57,59,66,68,73,77,82,84,85,92,93 g2,3,55 d28,29,52 o76,91"],
["CHRDL1","r0,1,72,76,91 b46,55,63"],
["TMEM14",""],
["HERC1","b0,1,7,9,12,15,18,23,24,28,33,46,51,55,63,82,92,93"],
["TGFB1","r0-4,7,9-24,26,28,29,33-35,37,38,40-43,45,46,48-52,54-64,66-70,72,75,76,78,79,81,84-87,89-92,95-97"],
["FHL2","b7,9,12,15,18,23,24,28,35,51,52,54 r56,63,89 g66,68,81"],
["ADAM15","r0,1,4,34,37,38,56,57,59,61,63,70,73,74,79,81,84,85 g2,3 b7,9,12,15,17,18,23,24,26,28,33,35,52,54,55,67,69,75,87,90,92"],
["EIF4G1","r0,1,55,76 b2,3,7,9,12,15,17,23,24,26,28,33,34,37,38,51,52,57,59,63,66-69,75,84,85,87,92,97 g4,19,21,40,70,71,86,94,98,99"],
["TRAM2","r0,1,4,11,13,16,20-22,49,58,72,78 b10,14,19,27,31,36,41-45,47,50,64,80"],
["EMC1",""],
["DHX9","b5,6,8,9,61,70,90 g46,55,83"],
["PFKP","g66,68"],
["DAPK1","r0,1,4,7,9,11-14,16,19-22,24,56,58,63,72,79,81,89,95 g34,40,59,71,84-86,92,94,98,99 b57,66,68 o76,91"],
["FBLN2","b0-3 o37,38,66,73,74"],
["NSD1","r0,1,46,55,66,68,72,79 o63"],
["PSMD1","g4,7,9,12,15,18,19,21,23,24,33,48,52,54,56,65,66,68,70,81,88,92,95,96 r55,63"],
["SLC39A4","b4,19,21,41,64 r46,55,66,68"],
["VPS4A","r0,1,4-6,8-14,16,19-23,34,40-43,45,46,49,50,55,58,63,64,66,68,70-72,78,91,92,96,98,99 g76"],
["AMPD2","o0,1,65,76,91"],
["EHD2","o0,1,7,9,12,13,16,20,22,24,28,33,66,68,78,79,95 d4,10,11,14,19,21,40 g17,26,92 b72"],
["PRPF6","r0,1,4,16,65,66,68,76,91"],
["HECTD4","b46,55"],
["CCDC80","b0-3,37,38,66,70,73,74"],
["NOTCH2","r0,1,7,9,12,15,18,23,24,33,35,46,51,54,55,61,63,66,68,72,79,92,95 o86"],
["FBL","r0,1,4,16,46,55,72 p9,24,33,92 g91"],
["NXN1","g0,1,76,91 o72"],
["KDELR1","r4,19,21,40 b9,12,15,18,23,24,33,41-43,45,49,64,86 g10,11,14 o13,16,20,22,27,58"],
["DHX57","b9,12,15,18,23,24,33,35,61,67,69,75,87,90,92"],
["CHD8","r0,1,9,12,15,18,23,63,66-68,72,92 b29,60,62,70"],
["PPRC1","g0,1,72 o66,68"],
["HNRNPL","r65"],
["PPP1R14B","b46,55,63 o70"],
["TMEM2","g0-4,19,21,40,71,86,94,98,99 b9,12,15,23,24,33,51,66,68,92,95,96 r55,63 o56,89"],
["TPM1","r0,1,4,7,9,12,15,18,23,24,28,33-35,46,48,51,52,54,55,57,59,63,72,76,79,84,85,91,92,95 o17,26,37,38,66-68,82,93"],
["MYO1C","o0,1,4,7,9,12,15,23,24,33,34,51,59,77,79,82,93,95 r46,55,66,68,92 b72"],
["ATRN","o7,9,12,15,18,23,52,54,92 b61,90,95"],
["THY1","r0,1,4,25,34,37-39,57,59,66,68,73,74,76,79,84,85,91 o7,9,11-16,18-24,28,33,35,46,51,54,55,63,67,69,75,77,78,82,86,87,92,93,95,97"],
["MRC2","b4,19,21,40 p9,24,33,92"],
["DCBLD1","r0,1,5,6,8,34,46,55,70,72,96 b63 g68,76,79,91"],
["LAMB3",""],
["RPL12","o0,1,72,76,91 g4-6,8,10,11,13,14,16,19-22,27,30-32,36,41-47,49,50,53,55,58,63-65,70,78,80,83,88"],
["UNC45A","b9,12,15,18,23,24,33,92"],
["PHLDA1","b0,1,24,29,33,51,52,60,62,67,82,93 g9,12,15,18,23,92"],
["SUPT5H","g5,6,8,30,32,70 r63,65,66,68"],
["HK1","r4,11,16,20-22,49,58,98,99 b19,41-43,45,64,66,68,70,92"]
];

const geneCols=[...colsA,...colsB,...colsC,...colsD,...colsE,...colsF,...colsG];
const W=7632,H=2098;
const svg=d3.select("#chart").append("svg").attr("width",4096).attr("height",1126).attr("viewBox",`0 0 ${W} ${H}`);
const grey="#cfcfcf",hdr="#f7f8f8",edge="#bdc3c7";
const y=d3.scaleBand().domain(d3.range(terms.length)).range([66,66+1998]).paddingInner(0.1).paddingOuter(0);
const x=d3.scaleBand().domain(d3.range(geneCols.length)).range([712,712+6918]).paddingInner(0.1).paddingOuter(0);
const barX=d3.scaleLinear().domain([0,16]).range([592,710]).clamp(true);
const step=y.step();
svg.append("g").selectAll("rect").data(terms).join("rect").attr("x",0).attr("width",W)
  .attr("y",(d,i)=>y(i)-1).attr("height",step).attr("fill",(d,i)=>i%2?"#fbfcfe":"#fff");
svg.append("rect").attr("width",W).attr("height",64).attr("fill",hdr);
svg.append("g").selectAll("line").data(d3.range(terms.length)).join("line")
  .attr("x1",712).attr("x2",W).attr("y1",i=>y(i)+y.bandwidth()+1).attr("y2",i=>y(i)+y.bandwidth()+1)
  .attr("stroke",grey).attr("stroke-width",2);
svg.append("g").selectAll("line").data(d3.range(geneCols.length)).join("line")
  .attr("x1",i=>x(i)+x.bandwidth()+1).attr("x2",i=>x(i)+x.bandwidth()+1).attr("y1",1).attr("y2",2066)
  .attr("stroke",grey).attr("stroke-width",2);
svg.append("line").attr("x1",711).attr("x2",711).attr("y1",1).attr("y2",64).attr("stroke",grey).attr("stroke-width",2);
const cells=[];
geneCols.forEach((g,j)=>{
  g[1].split(" ").filter(Boolean).forEach(tok=>{
    const c=tok[0];
    tok.slice(1).split(",").forEach(p=>{
      const m=p.match(/^(\d+)(?:-(\d+))?$/);if(!m)return;
      const a=+m[1],b=m[2]?+m[2]:a;
      for(let r=a;r<=b;r++)cells.push({j,r,c});
    });
  });
});
svg.append("g").selectAll("rect").data(cells).join("rect")
  .attr("x",d=>x(d.j)).attr("y",d=>y(d.r)).attr("width",x.bandwidth()).attr("height",y.bandwidth())
  .attr("fill",d=>evidence[d.c]);
svg.append("g").selectAll("text").data(geneCols).join("text")
  .attr("transform",(d,j)=>`translate(${x(j)+x.bandwidth()/2+2.8},58) rotate(90)`)
  .attr("text-anchor","end").attr("font-size",8).attr("fill","#666")
  .style("font-family","'Liberation Sans',Arial,sans-serif").text(d=>d[0]);
const rule=(x1,y1,x2,y2,w,c)=>svg.append("line").attr("x1",x1).attr("y1",y1).attr("x2",x2).attr("y2",y2).attr("stroke-width",w).attr("stroke",c);
rule(0,0.5,W,0.5,1.5,edge);
rule(0.5,0,0.5,2066,1.5,edge);
rule(0,32,711,32,1.5,"#d5d8da");
rule(0,64,W,64,2.5,"#c6cacc");
rule(0,2065.5,W,2065.5,2,"#c6cacc");
rule(471,8,471,24,1,"#d5d8da");
rule(350,40,350,56,1,"#d5d8da");
rule(471,40,471,56,1,"#d5d8da");
rule(591,40,591,56,1,"#d5d8da");
rule(710,8,710,24,1,"#d5d8da");
const head=(tx,ty,t)=>svg.append("text").attr("x",tx).attr("y",ty).attr("font-size",12).attr("font-weight",500).attr("fill","#6c6c6c").text(t);
head(13,20,"GO:BP");head(483,20,"stats");head(13,52,"Term name");head(363,52,"Term ID");
const ph=head(483,52,"p");ph.append("tspan").attr("dy",2).attr("font-size",9).text("adj");
const lh=head(604,52,"−log");lh.append("tspan").attr("dy",2).attr("font-size",9).text("10");
lh.append("tspan").attr("dy",-2).text("(p");lh.append("tspan").attr("dy",2).attr("font-size",9).text("adj");lh.append("tspan").attr("dy",-2).text(")");
const axisMinor=d3.axisTop(barX).tickValues(axisTicks).tickSize(2).tickFormat("");
const axisMajor=d3.axisTop(barX).tickValues([0,8,16]).tickSize(7).tickFormat("");
[axisMinor,axisMajor].forEach(a=>{const g=svg.append("g").attr("transform","translate(0,63)").call(a);
  g.select(".domain").remove();g.selectAll("line").attr("stroke","#9a9a9a");});
svg.append("text").attr("x",595).attr("y",60).attr("font-size",8.5).attr("font-weight",500).attr("fill","#6c6c6c").text("0");
svg.append("text").attr("x",706).attr("y",60).attr("text-anchor","end").attr("font-size",8.5).attr("font-weight",500).attr("fill","#6c6c6c").text("≤16");
const val=i=>-(Math.log10(padjMantissa[i])+padjExponent[i]);
svg.append("g").selectAll("rect").data(terms).join("rect")
  .attr("x",barX(0)).attr("y",(d,i)=>y(i)+1).attr("height",16)
  .attr("width",(d,i)=>barX(val(i))-barX(0)).attr("fill",(d,i)=>d3.interpolateViridis(1-val(i)/50));
const rowBase=i=>y(i)+y.bandwidth()/2+4.2;
svg.append("g").selectAll("text").data(terms).join("text").attr("x",13).attr("y",(d,i)=>rowBase(i))
  .attr("font-size",12).attr("fill","#222").text(d=>d);
svg.append("g").selectAll("text").data(termIds).join("text").attr("x",363).attr("y",(d,i)=>rowBase(i))
  .attr("font-size",12).attr("fill","#757575").text(d=>"GO:"+d);
const pt=svg.append("g").selectAll("text").data(padjMantissa).join("text").attr("x",483).attr("y",(d,i)=>rowBase(i))
  .attr("font-size",12.3).attr("fill","#333");
pt.append("tspan").text(d=>d.toFixed(3)+"×10");
pt.append("tspan").attr("dy",-4).attr("font-size",9).text((d,i)=>padjExponent[i]);
const foot=(tx,t)=>svg.append("text").attr("x",tx).attr("y",2087).attr("font-size",12).attr("fill","#6c6c6c").text(t);
foot(7384,"1 to 100 of 918");foot(7517,"Page 1 of 10");
const chev=(cx,dir,bar)=>{const p=d3.path();p.moveTo(cx+dir*-2.5,2077);p.lineTo(cx+dir*2.5,2083);p.lineTo(cx+dir*-2.5,2089);
  if(bar){p.moveTo(cx+dir*5,2077);p.lineTo(cx+dir*5,2089);}
  svg.append("path").attr("d",p.toString()).attr("fill","none").attr("stroke","#a5a5a5").attr("stroke-width",1);};
chev(7489,-1,true);chev(7505,-1,false);chev(7593,1,false);chev(7609,1,true);
</script></body></html>
